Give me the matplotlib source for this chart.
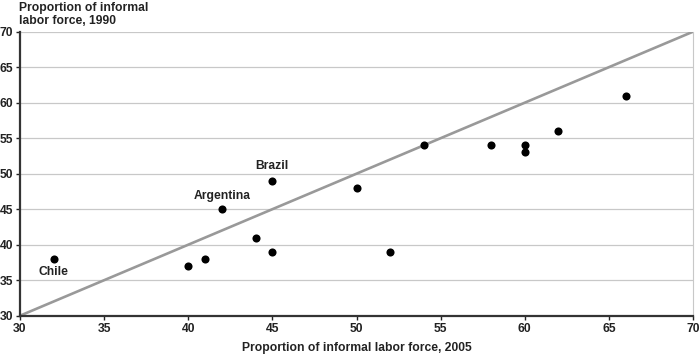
import matplotlib
matplotlib.use("Agg")
import matplotlib.pyplot as plt

# Informal labor force shares, 2005 (x) vs 1990 (y)
x_2005 = [32, 40, 41, 42, 44, 45, 45, 50, 52, 54, 58, 60, 60, 62, 66]
y_1990 = [38, 37, 38, 45, 41, 39, 49, 48, 39, 54, 54, 54, 53, 56, 61]
labels = {"Chile": (32, 38), "Argentina": (42, 45), "Brazil": (45, 49)}
label_offsets = {"Chile": (0, -9.5), "Argentina": (0, 9.5), "Brazil": (0, 10.5)}

plt.rcParams["font.family"] = ["Liberation Sans", "DejaVu Sans"]
FS = 8.7

fig = plt.figure(figsize=(7, 3.54), dpi=100)
ax = fig.add_axes([20 / 700, 1 - 315.7 / 354, 673 / 700, 284 / 354])

for yv in range(35, 75, 5):
    ax.axhline(yv, color="#c8c8c8", linewidth=0.9, zorder=1)

ax.plot([30, 70], [30, 70], color="#999999", linewidth=1.9, zorder=2)
ax.scatter(x_2005, y_1990, s=34, color="black", zorder=3, linewidths=0)

for name, (px, py) in labels.items():
    dx, dy = label_offsets[name]
    ax.annotate(name, (px, py), xytext=(dx, dy), textcoords="offset points",
                ha="center", va="center", fontsize=FS, fontweight="bold",
                color="#222222")

ax.set_xlim(30, 70)
ax.set_ylim(30, 70)
ax.set_xticks(range(30, 75, 5))
ax.set_yticks(range(30, 75, 5))
ax.tick_params(labelsize=FS, length=3, width=1, colors="#222222", pad=2)
for lab in ax.get_xticklabels() + ax.get_yticklabels():
    lab.set_fontweight("bold")

ax.spines["left"].set_color("#333333")
ax.spines["left"].set_linewidth(1.6)
ax.spines["bottom"].set_color("#333333")
ax.spines["bottom"].set_linewidth(1.6)
ax.spines["right"].set_color("#c8c8c8")
ax.spines["top"].set_visible(False)

ax.set_xlabel("Proportion of informal labor force, 2005", fontsize=FS,
              fontweight="bold", color="#222222", labelpad=5)
fig.text(19 / 700, 1 - 2 / 354, "Proportion of informal\nlabor force, 1990",
         ha="left", va="top", fontsize=FS, fontweight="bold", color="#222222",
         linespacing=1.1)

fig.savefig("out.png", dpi=100)
